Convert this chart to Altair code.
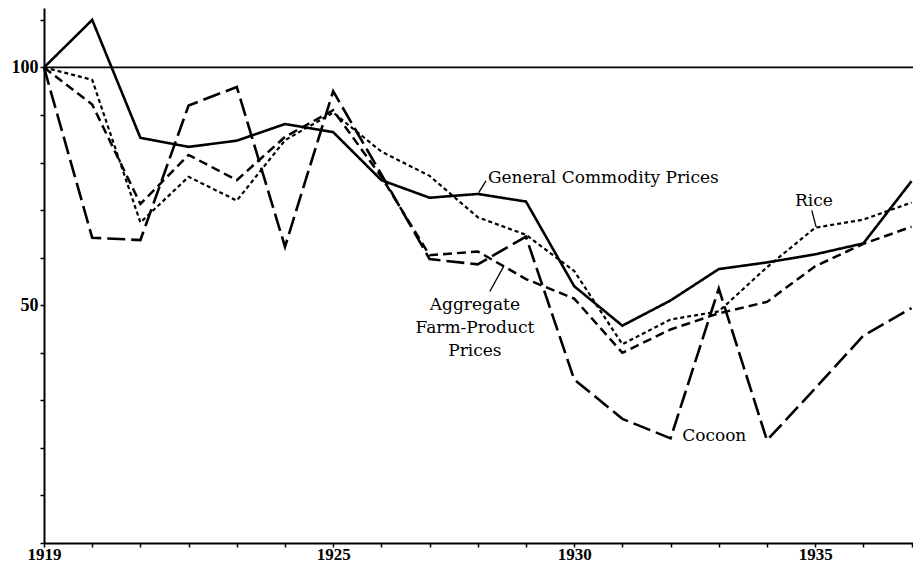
import altair as alt
import pandas as pd

years = list(range(1919, 1938))
general = [100, 110, 85.2, 83.3, 84.6, 88.1, 86.4, 76.3, 72.6, 73.4, 71.8, 54.0, 45.7, 51.0, 57.6, 59.0, 60.7, 63.0, 76.1]
rice = [100, 97.4, 67.4, 77.0, 72.0, 84.7, 90.5, 82.3, 77.2, 68.5, 64.8, 57.2, 41.8, 47.0, 48.7, 58.0, 66.3, 68.0, 71.6]
aggregate = [100, 92.2, 71.3, 81.6, 76.3, 85.4, 91.0, 77.0, 60.5, 61.3, 55.5, 51.4, 40.0, 44.9, 48.3, 50.7, 58.2, 62.9, 66.5]
cocoon = [100, 64.2, 63.7, 92.0, 95.9, 62.3, 95.0, 77.5, 59.7, 58.6, 64.4, 34.4, 26.1, 22.0, 53.5, 21.6, 32.5, 43.6, 49.4]

y_ticks = list(range(0, 111, 10))
y_labels = [50, 100]
x_labels = [1919, 1925, 1930, 1935]

# annotation texts (data coordinates)
label_text = ["General Commodity Prices", "Rice", "Cocoon"]
label_x = [1928.21, 1934.58, 1932.24]
label_y = [76.75, 72.0, 22.4]

agg_text = ["Aggregate", "Farm-Product", "Prices"]
agg_x = [1927.94, 1927.94, 1927.94]
agg_y = [50.0, 45.27, 40.33]

leader_x = [1928.02, 1934.93, 1928.25]
leader_y = [73.66, 69.96, 52.88]
leader_x2 = [1928.17, 1935.02, 1928.54]
leader_y2 = [76.13, 66.46, 58.23]

series = [
    ("General Commodity Prices", general, [1, 0], 2.6),
    ("Rice", rice, [4, 3], 2.2),
    ("Aggregate Farm-Product Prices", aggregate, [9, 5], 2.5),
    ("Cocoon", cocoon, [18, 6], 2.6),
]

xscale = alt.Scale(domain=[1919, 1937.03], nice=False, zero=False)
yscale = alt.Scale(domain=[0, 112.5], nice=False, zero=False)

x_axis = alt.Axis(
    values=years, format="d", title=None, grid=False, tickSize=4, labelPadding=-1,
    labelFlush=False, labelOverlap=False, labelFontSize=17,
    labelExpr="indexof(" + str(x_labels) + ", datum.value) >= 0 ? datum.label : ''",
)
y_axis = alt.Axis(
    values=y_ticks, title=None, grid=False, tickSize=4, labelPadding=2,
    labelOverlap=False,
    labelExpr="indexof(" + str(y_labels) + ", datum.value) >= 0 ? datum.label : ''",
)


def X(field):
    return alt.X(field, scale=xscale, axis=x_axis)


def Y(field):
    return alt.Y(field, scale=yscale, axis=y_axis)


layers = []
for i, (name, vals, dash, w) in enumerate(series):
    df = pd.DataFrame({"year": years, "value": vals, "series": name})
    mark = alt.Chart(df).mark_line(color="black", strokeWidth=w, strokeDash=dash, strokeJoin="miter")
    layers.append(mark.encode(x=X("year:Q"), y=Y("value:Q")))

# reference line at 100
ref = pd.DataFrame({"y": [100]})
layers.append(
    alt.Chart(ref).mark_rule(color="black", strokeWidth=1.8).encode(y=Y("y:Q"))
)

lab = pd.DataFrame({"text": label_text, "x": label_x, "y": label_y})
layers.append(
    alt.Chart(lab).mark_text(align="left", baseline="middle", font="DejaVu Serif", fontSize=17, color="black").encode(
        x=X("x:Q"), y=Y("y:Q"), text="text:N"
    )
)
agg = pd.DataFrame({"text": agg_text, "x": agg_x, "y": agg_y})
layers.append(
    alt.Chart(agg).mark_text(align="center", baseline="middle", font="DejaVu Serif", fontSize=17, color="black").encode(
        x=X("x:Q"), y=Y("y:Q"), text="text:N"
    )
)
lead = pd.DataFrame({"x": leader_x, "y": leader_y, "x2": leader_x2, "y2": leader_y2})
layers.append(
    alt.Chart(lead).mark_rule(color="black", strokeWidth=1.3).encode(
        x=X("x:Q"), y=Y("y:Q"), x2="x2:Q", y2="y2:Q"
    )
)

chart = alt.layer(*layers).properties(
    width=869, height=535,
    padding={"left": 36, "top": 0, "right": 0, "bottom": 21},
    autosize=alt.AutoSizeParams(type="none"),
    background="white",
).configure_view(stroke=None).configure_axis(
    domainColor="black", domainWidth=2, tickColor="black", tickWidth=1.5,
    labelFont="Liberation Serif", labelFontWeight="bold", labelFontSize=18, labelColor="black",
)

chart.save("out.html", embed_options={"renderer": "svg", "actions": False})
